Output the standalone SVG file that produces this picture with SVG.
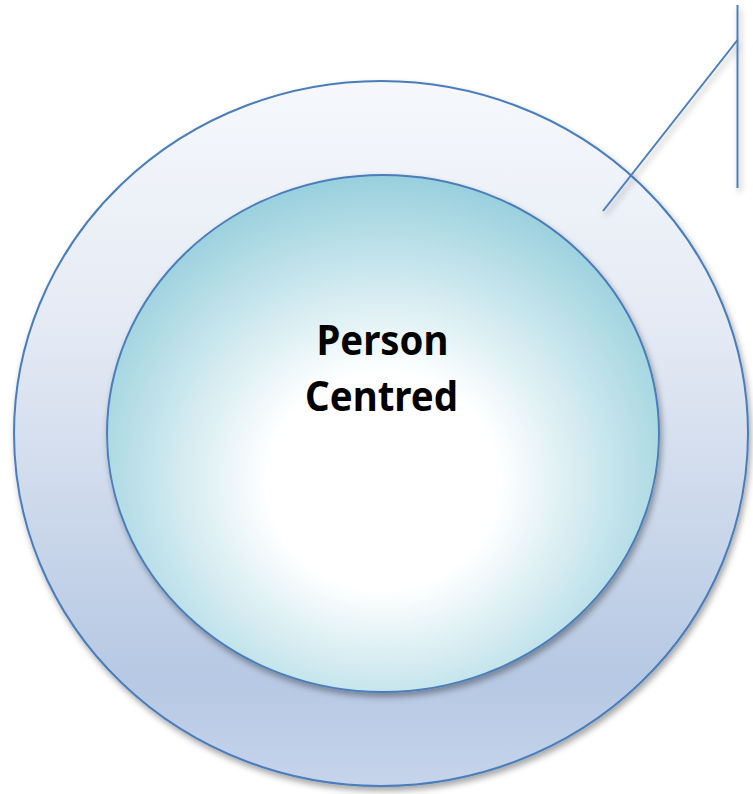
<svg xmlns="http://www.w3.org/2000/svg" width="753" height="794" viewBox="0 0 753 794">
<style>
.edge{fill:none;stroke:#4a7ebb;stroke-width:2}
.ring{stroke:#4a7ebb;stroke-width:2}
.lbl{font-family:"Noto Sans","Open Sans","Liberation Sans",sans-serif;font-weight:bold;font-size:41px;fill:#000}
</style>
<defs>
<linearGradient id="gOuter" x1="0" y1="0" x2="0" y2="1">
<stop offset="0" stop-color="#f6f8fc"/>
<stop offset="0.35" stop-color="#e4eaf4"/>
<stop offset="0.85" stop-color="#b6c8e3"/>
<stop offset="1" stop-color="#c6d4eb"/>
</linearGradient>
<radialGradient id="gInner" cx="0.5" cy="0.58" r="0.6" fx="0.5" fy="0.6">
<stop offset="0" stop-color="#ffffff"/>
<stop offset="0.35" stop-color="#ffffff"/>
<stop offset="1" stop-color="#92cddb"/>
</radialGradient>
<filter id="sh" x="-10%" y="-10%" width="120%" height="125%">
<feDropShadow dx="2" dy="4" stdDeviation="3" flood-color="#000" flood-opacity="0.35"/>
</filter>
</defs>
<g id="outer">
<ellipse cx="381" cy="433.5" rx="367" ry="352.5" fill="url(#gOuter)" class="ring" filter="url(#sh)"/>
</g>
<g id="inner">
<ellipse cx="383" cy="433.5" rx="276" ry="258.5" fill="url(#gInner)" class="ring" filter="url(#sh)"/>
<text class="lbl" x="316.5" y="355" textLength="132" lengthAdjust="spacingAndGlyphs">Person</text>
<text class="lbl" x="305" y="411" textLength="153" lengthAdjust="spacingAndGlyphs">Centred</text>
</g>
<g id="connectors" filter="url(#sh)">
<line class="edge" x1="603" y1="211" x2="737.5" y2="40"/>
<line class="edge" x1="737.5" y1="5" x2="737.5" y2="188"/>
</g>
</svg>
